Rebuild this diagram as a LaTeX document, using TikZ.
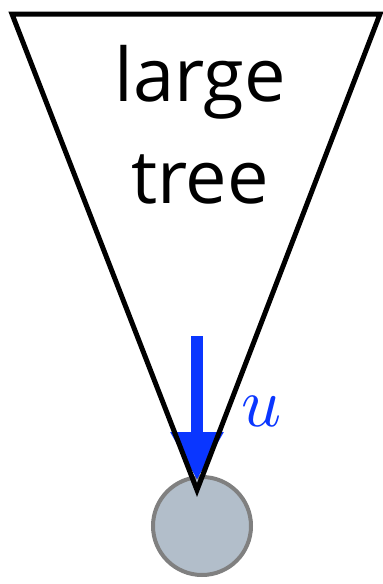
\documentclass[tikz,border=0pt]{standalone}
\usepackage{fontspec}
\usepackage{unicode-math}
\setmathfont{Latin Modern Math}
\newfontfamily\treefont{Open Sans}
\usetikzlibrary{arrows.meta}
\definecolor{ublue}{HTML}{0A36FF}
\definecolor{leaffill}{HTML}{B2BECA}
\definecolor{leafedge}{HTML}{808080}
\tikzset{
  treeedge/.style={line width=5pt, black, line join=miter},
  leafnode/.style={circle, fill=leaffill, draw=leafedge, line width=4pt, minimum size=98pt, inner sep=0pt},
  uarrow/.style={ublue, line width=12pt, -{Triangle[width=50pt,length=48pt]}},
  treelabel/.style={font=\treefont\fontsize{74}{102}\selectfont, align=center, inner sep=0pt},
  ulabel/.style={text=ublue, font=\fontsize{70}{70}\selectfont, inner sep=0pt}
}
\begin{document}
\begin{tikzpicture}[x=1pt,y=1pt]
\useasboundingbox (0,0) rectangle (383,-584);
\coordinate (tl) at (12,-14);
\coordinate (tr) at (380,-14);
\coordinate (apex) at (197,-490);
\node[leafnode] (leaf) at (202,-526) {};
\coordinate (astart) at (197,-336);
\coordinate (aend) at (197,-480);
\draw[uarrow] (astart) -- (aend);
\draw[treeedge] (tl) -- (tr) -- (apex) -- cycle;
\node[treelabel] (lbl) at (200,-125) {large\\tree};
\node[ulabel] (u) at (262,-411) {$u$};
\end{tikzpicture}
\end{document}
